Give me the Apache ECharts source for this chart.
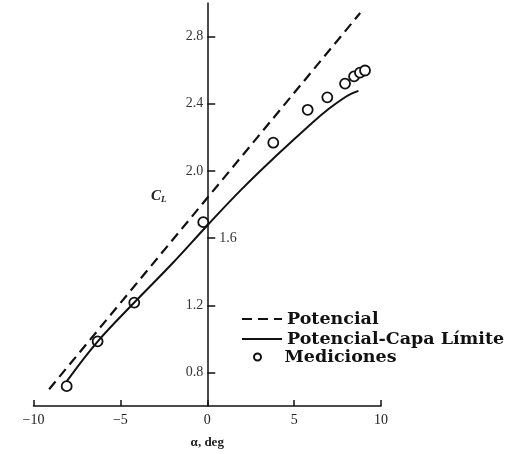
<!DOCTYPE html>
<html>
<head>
<meta charset="utf-8">
<script src="https://cdn.jsdelivr.net/npm/echarts@6/dist/echarts.min.js"></script>
<style>html,body{margin:0;padding:0;background:#fff}#c{width:517px;height:454px}</style>
</head>
<body>
<div id="c"></div>
<script>
// Potencial (dashed, straight line)
const potencialAlpha = [-9.1, 8.8];
const potencialCL = [0.70, 2.94];
// Potencial-Capa Límite (solid)
const capaAlpha = [-8.1, -6.3, -4.2, -2, 0, 2, 4, 6, 7, 7.8, 8.3, 8.7];
const capaCL = [0.745, 0.985, 1.216, 1.45, 1.675, 1.893, 2.093, 2.283, 2.37, 2.43, 2.46, 2.477];
// Mediciones (circles)
const medAlpha = [-8.09, -6.31, -4.2, -0.23, 3.8, 5.78, 6.91, 7.93, 8.45, 8.79, 9.08];
const medCL = [0.718, 0.985, 1.216, 1.695, 2.168, 2.364, 2.438, 2.52, 2.563, 2.585, 2.598];
// Axis ticks
const xTicks = [-10, -5, 0, 5, 10];
const yTicks = [0.8, 1.2, 1.6, 2.0, 2.4, 2.8];
const yLabelsLeft = [0.8, 1.2, 2.0, 2.4, 2.8];
const yLabelsRight = [1.6];

const zip = (a, b) => a.map((v, i) => [v, b[i]]);
const serif = 'Liberation Serif';
const legendFont = 'DejaVu Serif';
const gridLeft = 33.5, gridRight = 136, plotW = 517 - gridLeft - gridRight;
const xMin = -10, xMax = 10;
// y axis drawn where alpha = 0
const zeroShift = plotW * (0 - xMin) / (xMax - xMin);

const chart = echarts.init(document.getElementById('c'), null, {renderer: 'canvas'});
chart.setOption({
  animation: false,
  backgroundColor: '#fff',
  title: {
    text: '{c|C}{l|L}',
    left: 151, top: 189, padding: 0,
    textStyle: {
      rich: {
        c: {fontFamily: serif, fontStyle: 'italic', fontSize: 15, color: '#222'},
        l: {fontFamily: serif, fontStyle: 'italic', fontSize: 9, color: '#222', verticalAlign: 'bottom', padding: [6, 0, 0, 0]}
      }
    }
  },
  grid: {left: gridLeft, right: gridRight, top: 3, bottom: 41, containLabel: false},
  legend: [
    {
      orient: 'vertical', left: 241, top: 309, padding: 0, itemWidth: 40, itemHeight: 14, itemGap: 0,
      data: ['Potencial', 'Potencial-Capa Límite'],
      textStyle: {fontFamily: legendFont, fontWeight: 'bold', fontSize: 17.5, color: '#111', lineHeight: 20}
    },
    {
      orient: 'vertical', left: 253, top: 348, padding: 0, itemWidth: 10, itemHeight: 7, itemGap: 0,
      data: ['Mediciones'],
      formatter: n => '{m|' + n + '}',
      textStyle: {
        rich: {m: {fontFamily: legendFont, fontWeight: 'bold', fontSize: 17.5, color: '#111', lineHeight: 20, padding: [0, 0, 0, 17]}}
      }
    }
  ],
  xAxis: {
    type: 'value', min: xMin, max: xMax, interval: 5,
    name: 'α, deg', nameLocation: 'middle', nameGap: 30,
    nameTextStyle: {fontFamily: serif, fontSize: 13, color: '#222', fontWeight: 'bold'},
    axisLine: {onZero: false, lineStyle: {color: '#111', width: 1.5}},
    axisTick: {inside: true, length: 6, lineStyle: {color: '#111', width: 1.5}, customValues: xTicks},
    axisLabel: {
      margin: 7, fontFamily: serif, fontSize: 14, color: '#222',
      customValues: xTicks,
      formatter: v => (v < 0 ? '\u2212' + Math.abs(v) : String(v))
    },
    splitLine: {show: false}
  },
  yAxis: [
    {
      type: 'value', min: 0.6, max: 3.0, position: 'left', offset: -zeroShift,
      axisLine: {onZero: false, lineStyle: {color: '#111', width: 1.5}},
      axisTick: {inside: true, length: 8, lineStyle: {color: '#111', width: 1.5}, customValues: yTicks},
      axisLabel: {
        margin: 4, fontFamily: serif, fontSize: 14, color: '#333',
        customValues: yLabelsLeft, formatter: v => v.toFixed(1)
      },
      splitLine: {show: false}
    },
    {
      type: 'value', min: 0.6, max: 3.0, position: 'right', offset: -(plotW - zeroShift),
      axisLine: {show: false, onZero: false},
      axisTick: {show: false},
      axisLabel: {
        margin: 12, fontFamily: serif, fontSize: 14, color: '#333',
        customValues: yLabelsRight, formatter: v => v.toFixed(1)
      },
      splitLine: {show: false}
    }
  ],
  series: [
    {
      name: 'Potencial', type: 'line', data: zip(potencialAlpha, potencialCL),
      symbol: 'none', itemStyle: {color: 'rgba(0,0,0,0)'},
      lineStyle: {color: '#111', width: 2.2, type: [10, 6]}
    },
    {
      name: 'Potencial-Capa Límite', type: 'line', data: zip(capaAlpha, capaCL),
      symbol: 'none', smooth: 0.4, itemStyle: {color: 'rgba(0,0,0,0)'},
      lineStyle: {color: '#111', width: 2}
    },
    {
      name: 'Mediciones', type: 'scatter', data: zip(medAlpha, medCL),
      symbol: 'circle', symbolSize: 10,
      itemStyle: {color: '#fff', borderColor: '#111', borderWidth: 1.8, opacity: 1}
    }
  ]
});
</script>
</body>
</html>
